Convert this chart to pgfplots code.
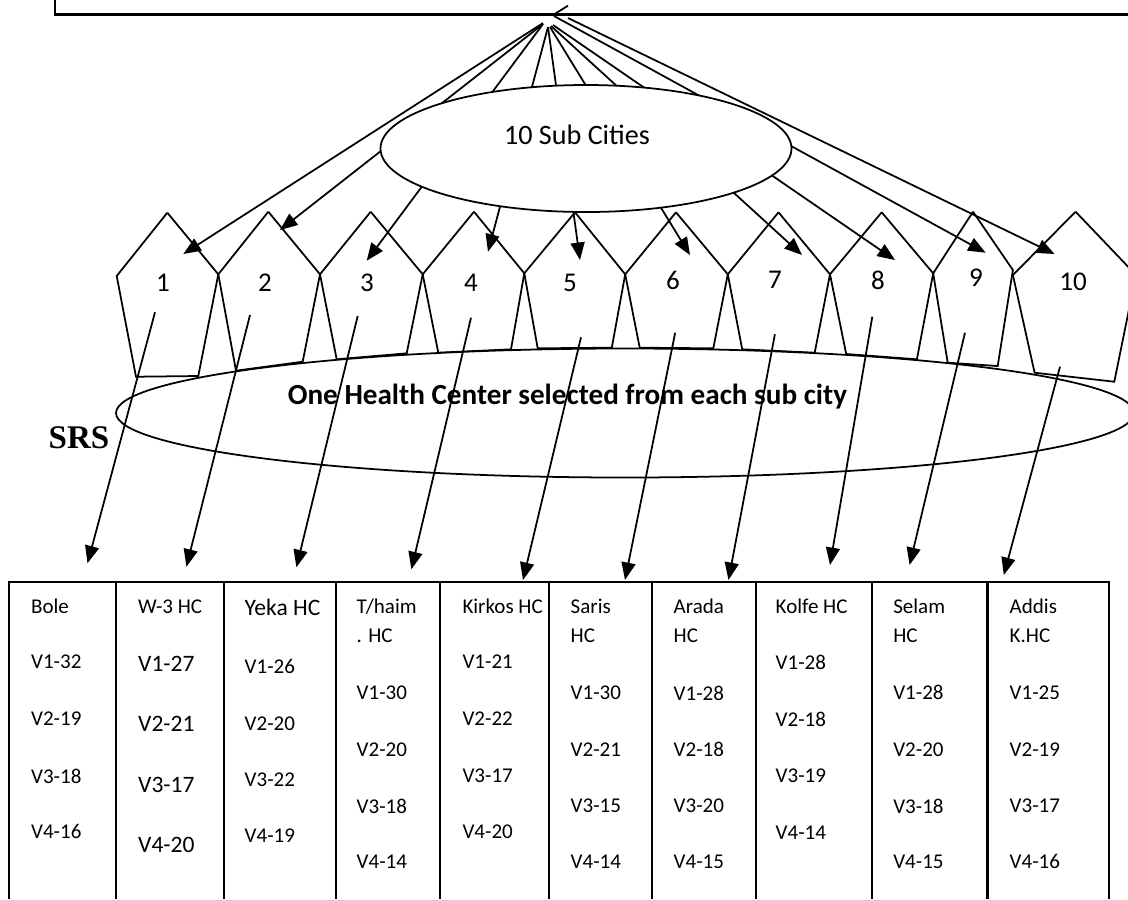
\documentclass[border=0pt]{standalone}
\usepackage{pgfplots}
\pgfplotsset{compat=1.18}
\usetikzlibrary{arrows.meta}
\usepackage{fontspec}
\setmainfont{Carlito}
\newfontfamily\srsfont{Liberation Serif}

% 1 unit = 1 pixel of the 1128x899 reference = 0.1 mm
\newcommand\tsmall{\fontsize{5.98}{7}\selectfont}
\newcommand\tlarge{\fontsize{6.7}{8}\selectfont}
\newcommand\tnum{\fontsize{7.7}{9}\selectfont}

\begin{document}
\begin{tikzpicture}
\begin{axis}[
    name=dia,
    scale only axis,
    width=112.8mm, height=89.9mm,
    xmin=0, xmax=1128, ymin=0, ymax=899,
    y dir=reverse,
    hide axis,
    clip=true,
    no markers,
    cycle list={{black,solid,line width=0.5pt}},
    ln/.style={black, solid, line width=0.5pt},
    arr/.style={ln, -{Triangle[length=1.75mm,width=1.4mm]}},
    tbl/.style={black, solid, line width=0.62pt},
]

% top box
\addplot[black, line width=0.8pt] coordinates {(55,0) (55,14.3) (1128,14.3)};
\addplot[ln] coordinates {(553,15) (568,5.7)};

% fan of lines from the top box to the ten sub cities
\addplot[arr] coordinates {(543,23) (183.3,254)};
\addplot[arr] coordinates {(543,24) (280,230)};
\addplot[arr] coordinates {(543,24) (366.7,260.7)};
\addplot[arr] coordinates {(548,27) (488,251.7)};
\addplot[arr] coordinates {(548,27) (580,260)};
\addplot[arr] coordinates {(550,27) (690,255)};
\addplot[arr] coordinates {(551,26) (802,255)};
\addplot[arr] coordinates {(553,25) (895,260)};
\addplot[arr] coordinates {(554,16) (985.7,252.7)};
\addplot[arr] coordinates {(568,18) (1054.6,254)};

\draw[fill=white, line width=0.5pt] (axis cs:586,148.5) ellipse [x radius=20.55mm, y radius=6.35mm];

% pentagons
\addplot[ln] coordinates {(167.3,212.7) (218.3,274.3) (198.3,376) (136,376.7) (116.7,276) (167.3,212.7)};
\addplot[ln] coordinates {(268.3,211.7) (320,274.3) (302.7,361.7) (236,370.7) (218.3,274.3) (268.3,211.7)};
\addplot[ln] coordinates {(370.7,211.7) (422.7,274.3) (406.7,353.3) (336.7,359.3) (320,274.3) (370.7,211.7)};
\addplot[ln] coordinates {(474,211.7) (524.3,273.3) (511,349.3) (438.3,352.7) (422.7,274.3) (474,211.7)};
\addplot[ln] coordinates {(575,212.3) (625.2,274.3) (611.8,347.7) (537.7,348.3) (524.3,273.3) (575,212.3)};
\addplot[ln] coordinates {(676,212.3) (727.8,274.3) (713.3,348.3) (639.7,347.7) (625.2,274.3) (676,212.3)};
\addplot[ln] coordinates {(778.5,212.3) (830,274.3) (814.7,352.7) (742.2,349.3) (727.8,274.3) (778.5,212.3)};
\addplot[ln] coordinates {(881.7,212.3) (933.2,273.3) (916.9,359.3) (846.2,354) (830,274.3) (881.7,212.3)};
\addplot[ln] coordinates {(973,211.7) (1012.9,270) (997.7,366) (947.7,362.7) (933.2,273.3) (973,211.7)};
\addplot[ln] coordinates {(1075.6,211.7) (1136,275) (1114.3,381.7) (1034.6,372.7) (1012.9,275) (1075.6,211.7)};

\draw[fill=white, line width=0.5pt] (axis cs:625,413) ellipse [x radius=50.9mm, y radius=6.45mm];

% arrows from each sub city to its health center
\addplot[arr] coordinates {(155,312.3) (87.5,563.3)};
\addplot[arr] coordinates {(250,315) (186.4,566.7)};
\addplot[arr] coordinates {(357.7,316) (296.4,567.3)};
\addplot[arr] coordinates {(471,317.7) (411.4,569.3)};
\addplot[arr] coordinates {(581,337.3) (523,580)};
\addplot[arr] coordinates {(675.2,332.7) (625,580)};
\addplot[arr] coordinates {(774.9,334.3) (728.5,580)};
\addplot[arr] coordinates {(872.3,316.7) (830,565)};
\addplot[arr] coordinates {(965,332.7) (909.6,565)};
\addplot[arr] coordinates {(1060,366.7) (1003.8,575)};

% table
\addplot[tbl] coordinates {(9,899) (9,582) (1109,582) (1109,899)};
\addplot[tbl] coordinates {(116.4,582) (116.4,899)};
\addplot[tbl] coordinates {(224,582) (224,899)};
\addplot[tbl] coordinates {(335.7,582) (335.7,899)};
\addplot[tbl] coordinates {(440.4,582) (440.4,899)};
\addplot[tbl] coordinates {(549,582) (549,899)};
\addplot[tbl] coordinates {(652.4,582.7) (652.4,899)};
\addplot[tbl] coordinates {(755.7,582) (755.7,899)};
\addplot[tbl] coordinates {(871.6,582) (871.6,899)};
\addplot[tbl] coordinates {(987.5,582) (987.5,899)};

% labels
\node[font=\fontsize{8}{9}\selectfont] at (axis cs:577,135) {10 Sub Cities};
\node[font=\tnum] at (axis cs:163,283) {1};
\node[font=\tnum] at (axis cs:265,283) {2};
\node[font=\tnum] at (axis cs:367,283) {3};
\node[font=\tnum] at (axis cs:471,283) {4};
\node[font=\tnum] at (axis cs:570,283) {5};
\node[font=\tnum] at (axis cs:673,280) {6};
\node[font=\tnum] at (axis cs:775,280) {7};
\node[font=\tnum] at (axis cs:878,280) {8};
\node[font=\tnum] at (axis cs:976,278) {9};
\node[font=\tnum] at (axis cs:1073,282) {10};
\node[font=\fontsize{8.3}{9}\selectfont\bfseries] at (axis cs:567.5,397) {One Health Center selected from each sub city};
\node[font=\fontsize{9.4}{11}\selectfont\srsfont\bfseries] at (axis cs:79,438) {SRS};

\tikzset{cell/.style={anchor=west, inner sep=0pt, font=\tsmall}, cellL/.style={anchor=west, inner sep=0pt, font=\tlarge}}
% column 1
\node[cell] at (axis cs:30.4,606.7) {Bole};
\node[cell] at (axis cs:30.4,661.7) {V1-32};
\node[cell] at (axis cs:30.4,718.3) {V2-19};
\node[cell] at (axis cs:30.4,776) {V3-18};
\node[cell] at (axis cs:30.4,831.7) {V4-16};
% column 2
\node[cell] at (axis cs:137.5,606.7) {W-3 HC};
\node[cellL] at (axis cs:137.5,664.3) {V1-27};
\node[cellL] at (axis cs:137.5,724.3) {V2-21};
\node[cellL] at (axis cs:137.5,785) {V3-17};
\node[cellL] at (axis cs:137.5,845) {V4-20};
% column 3
\node[cellL] at (axis cs:244,607.3) {Yeka HC};
\node[cell] at (axis cs:244,666.7) {V1-26};
\node[cell] at (axis cs:244,723.3) {V2-20};
\node[cell] at (axis cs:244,779.3) {V3-22};
\node[cell] at (axis cs:244,836) {V4-19};
% column 4
\node[cell] at (axis cs:356,606.7) {T/haim};
\node[cell] at (axis cs:356,636) {. HC};
\node[cell] at (axis cs:356,692.3) {V1-30};
\node[cell] at (axis cs:356,749.3) {V2-20};
\node[cell] at (axis cs:356,806) {V3-18};
\node[cell] at (axis cs:356,861.7) {V4-14};
% column 5
\node[cell] at (axis cs:461.8,606.7) {Kirkos HC};
\node[cell] at (axis cs:461.8,661.7) {V1-21};
\node[cell] at (axis cs:461.8,718.3) {V2-22};
\node[cell] at (axis cs:461.8,776) {V3-17};
\node[cell] at (axis cs:461.8,831.7) {V4-20};
% column 6
\node[cell] at (axis cs:570,606.7) {Saris};
\node[cell] at (axis cs:570,636) {HC};
\node[cell] at (axis cs:570,692.3) {V1-30};
\node[cell] at (axis cs:570,749.3) {V2-21};
\node[cell] at (axis cs:570,806) {V3-15};
\node[cell] at (axis cs:570,861.7) {V4-14};
% column 7
\node[cell] at (axis cs:673,606.7) {Arada};
\node[cell] at (axis cs:673,636) {HC};
\node[cell] at (axis cs:673,693) {V1-28};
\node[cell] at (axis cs:673,749.3) {V2-18};
\node[cell] at (axis cs:673,806) {V3-20};
\node[cell] at (axis cs:673,862) {V4-15};
% column 8
\node[cell] at (axis cs:775,606.7) {Kolfe HC};
\node[cell] at (axis cs:775,662.3) {V1-28};
\node[cell] at (axis cs:775,719) {V2-18};
\node[cell] at (axis cs:775,776) {V3-19};
\node[cell] at (axis cs:775,832.7) {V4-14};
% column 9
\node[cell] at (axis cs:892.6,606.7) {Selam};
\node[cell] at (axis cs:892.6,636) {HC};
\node[cell] at (axis cs:892.6,692.3) {V1-28};
\node[cell] at (axis cs:892.6,749.3) {V2-20};
\node[cell] at (axis cs:892.6,806) {V3-18};
\node[cell] at (axis cs:892.6,861.7) {V4-15};
% column 10
\node[cell] at (axis cs:1009,606.7) {Addis};
\node[cell] at (axis cs:1009,636) {K.HC};
\node[cell] at (axis cs:1009,692.3) {V1-25};
\node[cell] at (axis cs:1009,749.3) {V2-19};
\node[cell] at (axis cs:1009,806) {V3-17};
\node[cell] at (axis cs:1009,861.7) {V4-16};
\end{axis}
\pgfresetboundingbox
\path (dia.south west) rectangle (dia.north east);
\end{tikzpicture}
\end{document}
